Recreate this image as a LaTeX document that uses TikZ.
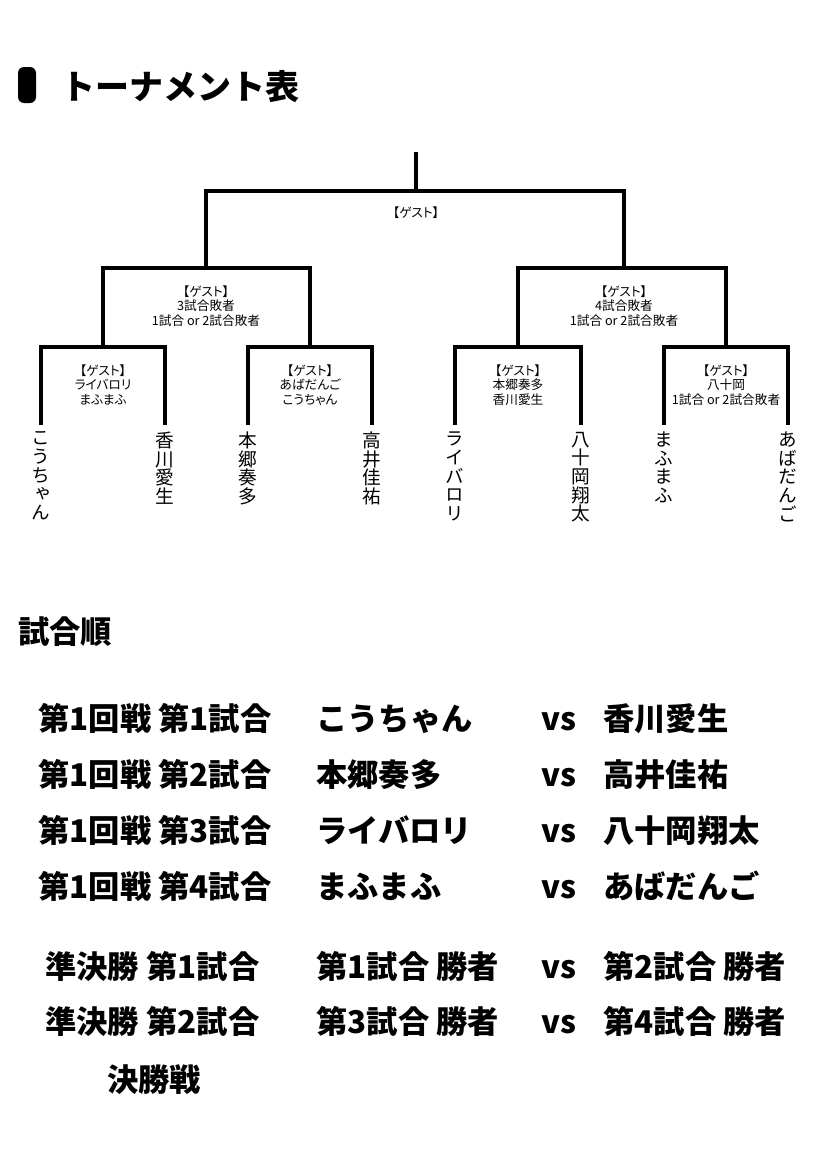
\documentclass[tikz,border=0pt]{standalone}
\usepackage{fontspec}
\setmainfont{Noto Sans CJK JP}
\newfontfamily\guestfont[RawFeature=+palt]{Noto Sans CJK JP}
\newfontfamily\namefont[RawFeature=+vert]{Noto Sans CJK JP}
\usetikzlibrary{positioning}

\begin{document}
\begin{tikzpicture}[
  x=0.75pt, y=-0.75pt,
  bracket/.style={line width=2.6pt, line join=miter},
  guest/.style={inner sep=0pt, align=center, anchor=north, font=\guestfont\fontsize{9.5}{10.8}\selectfont},
  player/.style={inner sep=0pt, align=center, anchor=north, font=\namefont\fontsize{14}{14}\selectfont},
  titlebar/.style={fill=black, rounded corners=4.5pt, minimum width=13.5pt, minimum height=27pt, inner sep=0pt},
  title/.style={inner sep=0pt, anchor=west, font=\bfseries\fontsize{25.5}{25.5}\selectfont},
  heading/.style={inner sep=0pt, anchor=west, font=\bfseries\fontsize{23.5}{23.5}\selectfont},
  match/.style={inner sep=0pt, anchor=west, yshift=-5pt, text height=0.88em, text depth=0.12em, font=\bfseries\fontsize{23.5}{23.5}\selectfont},
]
\useasboundingbox (0,0) rectangle (828,1160);

% Title
\node[titlebar] (bar) at (27,85) {};
\node[title, right=19pt of bar, yshift=-1.5pt] (ttl) {トーナメント表};

% Bracket junctions
\coordinate (top) at (416,152);
\coordinate (f) at (416,191);
\coordinate (s1) at (206,268);
\coordinate (s2) at (624,268);
\coordinate (q1) at (103,347);
\coordinate (q2) at (310,347);
\coordinate (q3) at (518,347);
\coordinate (q4) at (726,347);

% Player stems
\coordinate (p1) at (41,425);
\coordinate (p2) at (165,425);
\coordinate (p3) at (248,425);
\coordinate (p4) at (372,425);
\coordinate (p5) at (455,425);
\coordinate (p6) at (581,425);
\coordinate (p7) at (664,425);
\coordinate (p8) at (788,425);

% Lines: final, semis, first round
\draw[bracket] (top) -- (f);
\draw[bracket] (s1) |- (f) -| (s2);
\draw[bracket] (q1) |- (s1) -| (q2);
\draw[bracket] (q3) |- (s2) -| (q4);
\draw[bracket] (p1) |- (q1) -| (p2);
\draw[bracket] (p3) |- (q2) -| (p4);
\draw[bracket] (p5) |- (q3) -| (p6);
\draw[bracket] (p7) |- (q4) -| (p8);

% Guest labels
\node[guest, below=12pt of f] (gf) {【ゲスト】};
\node[guest, below=13pt of s1] (gs1) {【ゲスト】\\3試合敗者\\1試合 or 2試合敗者};
\node[guest, below=13pt of s2] (gs2) {【ゲスト】\\4試合敗者\\1試合 or 2試合敗者};
\node[guest, below=13pt of q1] (gq1) {【ゲスト】\\ライバロリ\\まふまふ};
\node[guest, below=13pt of q2] (gq2) {【ゲスト】\\あばだんご\\こうちゃん};
\node[guest, below=13pt of q3] (gq3) {【ゲスト】\\本郷奏多\\香川愛生};
\node[guest, below=13pt of q4] (gq4) {【ゲスト】\\八十岡\\1試合 or 2試合敗者};

% Players (vertical names)
\node[player, below=5pt of p1] (n1) {こ\\う\\ち\\ゃ\\ん};
\node[player, below=5pt of p2] (n2) {香\\川\\愛\\生};
\node[player, below=5pt of p3] (n3) {本\\郷\\奏\\多};
\node[player, below=5pt of p4] (n4) {高\\井\\佳\\祐};
\node[player, below=5pt of p5] (n5) {ラ\\イ\\バ\\ロ\\リ};
\node[player, below=5pt of p6] (n6) {八\\十\\岡\\翔\\太};
\node[player, below=5pt of p7] (n7) {ま\\ふ\\ま\\ふ};
\node[player, below=5pt of p8] (n8) {あ\\ば\\だ\\ん\\ご};

% Match order
\node[heading] (order) at (18,632) {試合順};

% First round
\node[match] (r1a) at (38,719) {第1回戦 第1試合};
\node[match] (r1b) at (316,719) {こうちゃん};
\node[match] (r1v) at (541,719) {vs};
\node[match] (r1c) at (603,719) {香川愛生};

\node[match] (r2a) at (38,775) {第1回戦 第2試合};
\node[match] (r2b) at (316,775) {本郷奏多};
\node[match] (r2v) at (541,775) {vs};
\node[match] (r2c) at (603,775) {高井佳祐};

\node[match] (r3a) at (38,831) {第1回戦 第3試合};
\node[match] (r3b) at (316,831) {ライバロリ};
\node[match] (r3v) at (541,831) {vs};
\node[match] (r3c) at (603,831) {八十岡翔太};

\node[match] (r4a) at (38,887) {第1回戦 第4試合};
\node[match] (r4b) at (316,887) {まふまふ};
\node[match] (r4v) at (541,887) {vs};
\node[match] (r4c) at (603,887) {あばだんご};

% Semifinals
\node[match] (r5a) at (45,967) {準決勝 第1試合};
\node[match] (r5b) at (316,967) {第1試合 勝者};
\node[match] (r5v) at (541,967) {vs};
\node[match] (r5c) at (603,967) {第2試合 勝者};

\node[match] (r6a) at (45,1022) {準決勝 第2試合};
\node[match] (r6b) at (316,1022) {第3試合 勝者};
\node[match] (r6v) at (541,1022) {vs};
\node[match] (r6c) at (603,1022) {第4試合 勝者};

% Final
\node[match] (r7a) at (107,1080) {決勝戦};

\end{tikzpicture}
\end{document}
